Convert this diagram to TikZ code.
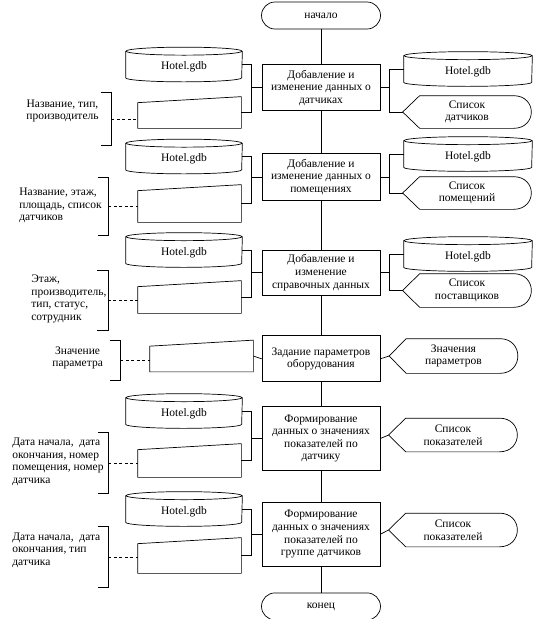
\documentclass[tikz,border=0pt]{standalone}
\usepackage{fontspec}
\setmainfont{Liberation Serif}
\usetikzlibrary{positioning}

\newcommand{\chartfont}{\fontsize{11.5}{12.6}\selectfont}

\tikzset{
  term/.style={draw, rounded corners=13.5pt, minimum width=119pt, minimum height=27pt, inner sep=0pt},
  proc/.style={draw, align=center, minimum width=118pt, inner sep=2pt},
  db/.style={minimum width=#1, minimum height=34pt, inner sep=0pt, text height=13pt, text depth=2.5pt,
    append after command={\pgfextra{
      \draw ([yshift=-4pt]\tikzlastnode.north) ellipse [x radius=#1/2, y radius=4pt];
      \draw ([yshift=-4pt]\tikzlastnode.north west) -- ([yshift=4pt]\tikzlastnode.south west)
        arc [start angle=180, end angle=360, x radius=#1/2, y radius=4pt]
        -- ([yshift=-4pt]\tikzlastnode.north east);}}},
  disp/.style={minimum width=128pt, minimum height=#1, align=center, inner sep=0pt,
    append after command={\pgfextra{
      \draw (\tikzlastnode.west) -- ([xshift=17pt]\tikzlastnode.north west)
        -- ([xshift=-18pt]\tikzlastnode.north east)
        .. controls ([xshift=6pt]\tikzlastnode.north east) and ([xshift=6pt]\tikzlastnode.south east)
        .. ([xshift=-18pt]\tikzlastnode.south east)
        -- ([xshift=17pt]\tikzlastnode.south west) -- cycle;}}},
  manin/.style={minimum width=103pt, minimum height=#1, inner sep=0pt,
    append after command={\pgfextra{
      \draw ([yshift=-6pt]\tikzlastnode.north west) -- (\tikzlastnode.north east)
        -- (\tikzlastnode.south east) -- (\tikzlastnode.south west) -- cycle;}}},
  bracket/.style={minimum width=10pt, minimum height=#1, inner sep=0pt,
    append after command={\pgfextra{
      \draw (\tikzlastnode.north west) -- (\tikzlastnode.north east)
        -- (\tikzlastnode.south east) -- (\tikzlastnode.south west);}}},
  note/.style={align=left, inner sep=0pt, anchor=west},
  link/.style={dash pattern=on 3pt off 2.5pt}
}

\begin{document}
\begin{tikzpicture}[x=1pt, y=1pt, line width=0.7pt, font=\chartfont]
  \useasboundingbox (0,0) rectangle (546,-619);

  % main column
  \node [term] (start) at (321,-15.5) {начало};
  \node [proc, minimum height=46pt, below = 35pt of start] (p1) {Добавление и\\изменение данных о\\датчиках};
  \node [proc, minimum height=47pt, below = 42pt of p1] (p2) {Добавление и\\изменение данных о\\помещениях};
  \node [proc, minimum height=45pt, below = 49pt of p2] (p3) {Добавление и\\изменение\\справочных данных};
  \node [proc, minimum height=46pt, below = 40pt of p3] (p4) {Задание параметров\\оборудования};
  \node [proc, minimum height=64pt, below = 24pt of p4] (p5) {Формирование\\данных о значениях\\показателей по\\датчику};
  \node [proc, minimum height=64pt, below = 31pt of p5] (p6) {Формирование\\данных о значениях\\показателей по\\группе датчиков};
  \node [term, below = 26pt of p6] (stop) {конец};

  \draw (start) -- (p1);
  \draw (p1) -- (p2);
  \draw (p2) -- (p3);
  \draw (p3) -- (p4);
  \draw (p4) -- (p5);
  \draw (p5) -- (p6);
  \draw (p6) -- (stop);

  % left side
  \node [db=116pt] (db1) at (184,-64.5) {Hotel.gdb};
  \node [db=116pt] (db2) at (184,-156.5) {Hotel.gdb};
  \node [db=116pt] (db3) at (184,-250) {Hotel.gdb};
  \node [db=116pt] (db4) at (184,-411) {Hotel.gdb};
  \node [db=116pt] (db5) at (184,-509) {Hotel.gdb};

  \node [manin=31pt] (in1) at (189.5,-112.5) {};
  \node [manin=37pt] (in2) at (189.5,-203.5) {};
  \node [manin=32pt] (in3) at (189.5,-297) {};
  \node [manin=31pt] (in4) at (201.5,-356) {};
  \node [manin=33pt] (in5) at (189.5,-460.5) {};
  \node [manin=35pt] (in6) at (189.5,-555.5) {};

  \node [bracket=52pt] (br1) at (106,-119) {};
  \node [bracket=57pt] (br2) at (103,-206.5) {};
  \node [bracket=59pt] (br3) at (102.5,-300.5) {};
  \node [bracket=39pt] (br4) at (115,-360.5) {};
  \node [bracket=60pt] (br5) at (103,-463) {};
  \node [bracket=60pt] (br6) at (103,-557) {};

  \node [note, align=center] (n1) at (26,-111) {Название, тип,\\производитель};
  \node [note] (n2) at (19,-205.5) {Название, этаж,\\площадь, список\\датчиков};
  \node [note] (n3) at (31,-299) {Этаж,\\производитель,\\тип, статус,\\сотрудник};
  \node [note, align=center] (n4) at (52,-358) {Значение\\параметра};
  \node [note] (n5) at (12,-462) {Дата начала,~ дата\\окончания, номер\\помещения, номер\\датчика};
  \node [note] (n6) at (12,-550) {Дата начала,~ дата\\окончания, тип\\датчика};

  \draw [link] (br1.east) -- (br1.east -| in1.west);
  \draw [link] (br2.east) -- (br2.east -| in2.west);
  \draw [link] (br3.east) -- (br3.east -| in3.west);
  \draw [link] (br4.east) -- (br4.east -| in4.west);
  \draw [link] (br5.east) -- (br5.east -| in5.west);
  \draw [link] (br6.east) -- (br6.east -| in6.west);

  \draw (db1.east) -| ([xshift=-10pt]p1.west) |- (in1.east);
  \draw ([xshift=-10pt]p1.west) -- (p1.west);
  \draw (db2.east) -| ([xshift=-10pt]p2.west) |- (in2.east);
  \draw ([xshift=-10pt]p2.west) -- (p2.west);
  \draw (db3.east) -| ([xshift=-10pt]p3.west) |- (in3.east);
  \draw ([xshift=-10pt]p3.west) -- (p3.west);
  \draw (in4.east) -- (p4.west);
  \draw (db4.east) -| ([xshift=-10pt]p5.west) |- (in5.east);
  \draw ([xshift=-10pt]p5.west) -- (p5.west);
  \draw (db5.east) -| ([xshift=-10pt]p6.west) |- (in6.east);
  \draw ([xshift=-10pt]p6.west) -- (p6.west);

  % right side
  \node [db=128pt] (rdb1) at (468,-69) {Hotel.gdb};
  \node [db=128pt] (rdb2) at (468,-154) {Hotel.gdb};
  \node [db=128pt] (rdb3) at (468,-254) {Hotel.gdb};

  \node [disp=32pt] (out1) at (467,-112) {Список\\датчиков};
  \node [disp=32pt] (out2) at (467,-193) {Список\\помещений};
  \node [disp=33pt] (out3) at (467,-290.5) {Список\\поставщиков};
  \node [disp=34pt] (out4) at (453.5,-356) {Значения\\параметров};
  \node [disp=33pt] (out5) at (453,-435) {Список\\показателей};
  \node [disp=33pt] (out6) at (453,-530) {Список\\показателей};

  \draw (rdb1.west) -| ([xshift=9pt]p1.east) |- (out1.west);
  \draw (p1.east) -- ([xshift=9pt]p1.east);
  \draw (rdb2.west) -| ([xshift=9pt]p2.east) |- (out2.west);
  \draw (p2.east) -- ([xshift=9pt]p2.east);
  \draw (rdb3.west) -| ([xshift=9pt]p3.east) |- (out3.west);
  \draw (p3.east) -- ([xshift=9pt]p3.east);
  \draw (p4.east) -- (out4.west);
  \draw (p5.east) -- (out5.west);
  \draw (p6.east) -- (out6.west);
\end{tikzpicture}
\end{document}
